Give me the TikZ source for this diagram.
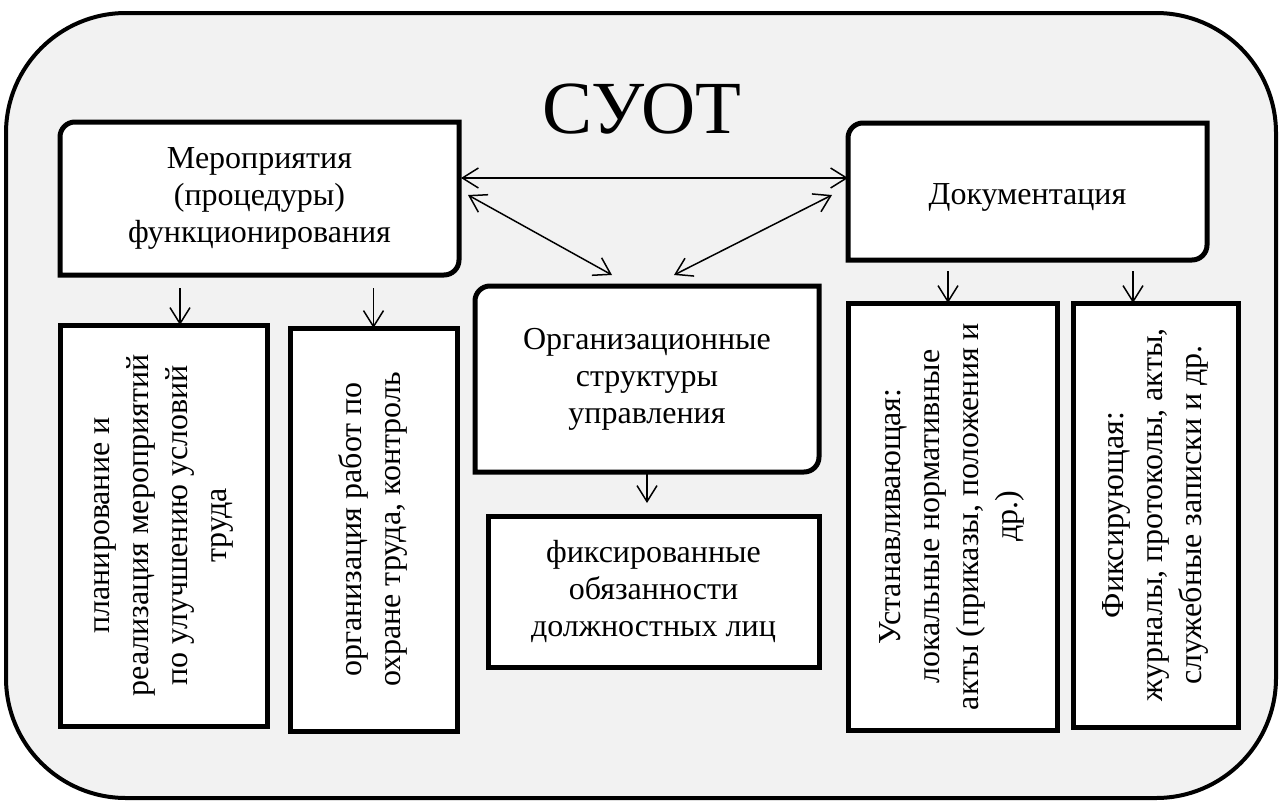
\documentclass[tikz,border=0pt]{standalone}
\usepackage{fontspec}
\setmainfont{Liberation Serif}
\usetikzlibrary{arrows.meta,backgrounds}
\definecolor{framegray}{HTML}{F2F2F2}
\begin{document}
\begin{tikzpicture}[x = 1pt, y = -1pt,
        txt/.style = {align = center, inner sep = 0pt, outer sep = 0pt, font = \fontsize{32}{37}\selectfont,
                      execute at begin node = {\rule{0pt}{33pt}}, execute at end node = {\rule[-7pt]{0pt}{7pt}}},
        box/.style = {txt, draw, fill = white, line width = 5pt},
        vbox/.style = {box, rotate = 90, font = \fontsize{32}{39}\selectfont},
        outline/.style = {draw, fill = white, line width = 5pt},
        arr/.style = {line width = 1.5pt, -{Straight Barb[length = 16pt, width = 20pt]}},
        dblarr/.style = {line width = 1.5pt, {Straight Barb[length = 16pt, width = 20pt]}-{Straight Barb[length = 16pt, width = 20pt]}}]
    \useasboundingbox (0,0) rectangle (1282,803);
    \node[font = \fontsize{75}{80}\selectfont, anchor = base] (title) at (642,133) {СУОТ};
    % upper blocks
    \node[txt, minimum width = 399, minimum height = 153] (mer) at (259.5,198.5) {Мероприятия\\(процедуры)\\функционирования};
    \node[txt, minimum width = 359, minimum height = 137] (doc) at (1027.5,191.5) {Документация};
    \node[txt, minimum width = 344, minimum height = 186] (org) at (647,379) {Организационные\\структуры\\управления};
    \node[box, minimum width = 331, minimum height = 151] (duty) at (653.5,591.5) {фиксированные\\обязанности\\должностных лиц};
    % vertical blocks
    \node[vbox, minimum width = 401, minimum height = 207] (plan) at (163.5,525.5) {планирование и\\реализация мероприятий\\по улучшению условий\\труда};
    \node[vbox, minimum width = 403, minimum height = 167] (work) at (373.5,529.5) {организация работ по\\охране труда, контроль};
    \node[vbox, minimum width = 427, minimum height = 209] (est) at (952.5,516.5) {Устанавливающая:\\локальные нормативные\\акты (приказы, положения и\\др.)};
    \node[vbox, minimum width = 424, minimum height = 165] (fix) at (1155.5,515) {Фиксирующая:\\журналы, протоколы, акты,\\служебные записки и др.};
    \begin{scope}[on background layer]
        \draw[line width = 4pt, fill = framegray, rounded corners = 120pt] (6,13) rectangle (1276,798);
        \foreach \n in {mer, doc, org}
            \draw[outline] (\n.south west) -- ([yshift = -15pt]\n.north west) arc[start angle = 180, end angle = 90, radius = 15pt]
                -- (\n.north east) -- ([yshift = 15pt]\n.south east) arc[start angle = 0, end angle = -90, radius = 15pt] -- cycle;
    \end{scope}
    % connectors
    \draw[dblarr] ([xshift = 2pt, yshift = 20.5pt]mer.east) -- ([yshift = 13.5pt]doc.west);
    \draw[dblarr] ([xshift = 9pt, yshift = 3.5pt]mer.east) -- ([xshift = -35pt, yshift = 11pt]org.north);
    \draw[dblarr] ([xshift = -16pt, yshift = -3.5pt]doc.west) -- ([xshift = 27pt, yshift = 11pt]org.north);
    \draw[arr] ([xshift = 16.5pt, yshift = 37pt]plan.east) -- ([xshift = 16.5pt]plan.east);
    \draw[arr] ([yshift = 40pt]work.east) -- (work.east);
    \draw[arr] ([xshift = -4.5pt, yshift = 32pt]est.east) -- ([xshift = -4.5pt]est.east);
    \draw[arr] ([xshift = -22.5pt, yshift = 32pt]fix.east) -- ([xshift = -22.5pt]fix.east);
    \draw[arr] (org.south) -- ([yshift = 13pt]duty.north -| org.south);
\end{tikzpicture}
\end{document}
